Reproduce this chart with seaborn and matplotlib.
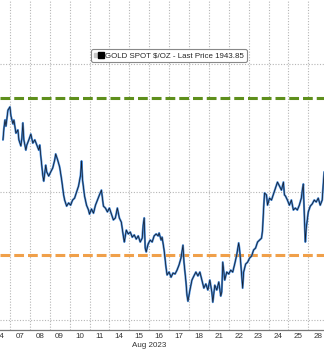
import matplotlib
matplotlib.use("Agg")
import matplotlib.pyplot as plt
from matplotlib.lines import Line2D
import seaborn as sns
import pandas as pd

# ---- data -------------------------------------------------------------
# time in trading days (Aug 07 session = [0, 1]), spot price $/oz
t = [-0.35, -0.30, -0.25, -0.20, -0.10, 0.00, 0.05, 0.15, 0.20, 0.30, 0.40, 0.45,
     0.55, 0.60, 0.65, 0.70, 0.80, 0.85, 0.95, 1.05, 1.15, 1.25, 1.35, 1.45, 1.50,
     1.55, 1.65, 1.70, 1.80, 1.85, 1.95, 2.05, 2.15, 2.25, 2.30, 2.40, 2.50, 2.60,
     2.70, 2.75, 2.85, 2.95, 3.05, 3.15, 3.25, 3.35, 3.45, 3.55, 3.60, 3.65, 3.75,
     3.85, 3.95, 4.00, 4.10, 4.20, 4.30, 4.40, 4.50, 4.60, 4.65, 4.70, 4.80, 4.90,
     5.00, 5.10, 5.20, 5.30, 5.40, 5.50, 5.60, 5.70, 5.75, 5.85, 5.95, 6.05, 6.15,
     6.25, 6.35, 6.45, 6.55, 6.65, 6.70, 6.75, 6.80, 6.85, 6.95, 7.05, 7.15, 7.25,
     7.35, 7.45, 7.50, 7.60, 7.65, 7.75, 7.85, 7.90, 8.00, 8.10, 8.20, 8.30, 8.40,
     8.50, 8.60, 8.70, 8.75, 8.85, 8.90, 8.95, 9.05, 9.15, 9.25, 9.35, 9.45, 9.55,
     9.65, 9.75, 9.85, 9.95, 10.05, 10.15, 10.20, 10.30, 10.40, 10.50, 10.60, 10.65,
     10.70, 10.80, 10.90, 11.00, 11.10, 11.20, 11.30, 11.40, 11.50, 11.55, 11.60,
     11.70, 11.75, 11.85, 11.95, 12.05, 12.15, 12.25, 12.35, 12.45, 12.55, 12.65,
     12.70, 12.75, 12.80, 12.90, 12.95, 13.05, 13.15, 13.25, 13.35, 13.45, 13.55,
     13.65, 13.75, 13.80, 13.85, 13.95, 14.05, 14.15, 14.25, 14.35, 14.45, 14.55,
     14.65, 14.70, 14.75, 14.80, 14.85, 14.90, 15.00, 15.10, 15.20, 15.30, 15.40,
     15.50, 15.60, 15.70, 15.75, 15.80]
price = [1936.3, 1940.0, 1942.5, 1940.6, 1945.6, 1946.6, 1943.8, 1941.3, 1942.5, 1938.4,
         1939.4, 1936.3, 1934.4, 1936.9, 1941.6, 1936.3, 1933.1, 1934.7, 1936.3, 1938.1,
         1935.3, 1936.3, 1934.7, 1933.1, 1934.7, 1931.3, 1925.3, 1923.4, 1928.4, 1926.3,
         1925.0, 1926.3, 1927.5, 1930.0, 1931.9, 1930.0, 1927.8, 1923.8, 1919.1, 1917.5,
         1915.6, 1916.6, 1915.9, 1917.5, 1918.1, 1920.0, 1921.9, 1925.3, 1929.7, 1923.8,
         1918.8, 1915.9, 1914.4, 1913.1, 1914.7, 1913.4, 1915.9, 1917.5, 1919.1, 1920.6,
         1918.1, 1915.6, 1915.0, 1913.8, 1915.0, 1913.1, 1911.3, 1911.9, 1915.0, 1911.9,
         1910.6, 1906.3, 1904.4, 1908.1, 1906.9, 1907.5, 1905.9, 1906.6, 1905.3, 1906.3,
         1904.4, 1905.6, 1909.7, 1911.9, 1902.5, 1901.3, 1903.8, 1905.0, 1904.4, 1906.3,
         1906.9, 1906.3, 1907.2, 1905.0, 1905.9, 1901.9, 1896.3, 1894.1, 1895.0, 1893.4,
         1894.7, 1894.4, 1895.6, 1897.2, 1899.4, 1903.4, 1898.1, 1891.9, 1887.8, 1885.9,
         1889.4, 1892.5, 1893.8, 1895.0, 1893.8, 1895.0, 1892.5, 1890.0, 1891.3, 1889.4,
         1892.5, 1888.8, 1885.6, 1890.9, 1889.4, 1891.9, 1887.5, 1888.8, 1898.1, 1892.5,
         1895.0, 1894.4, 1895.6, 1895.0, 1897.5, 1900.3, 1904.1, 1901.9, 1898.1, 1890.0,
         1895.0, 1897.5, 1898.1, 1899.4, 1900.0, 1901.9, 1902.5, 1904.4, 1905.0, 1905.6,
         1908.1, 1914.4, 1919.7, 1919.1, 1915.9, 1918.1, 1917.5, 1919.4, 1921.3, 1923.1,
         1921.9, 1920.6, 1923.1, 1919.1, 1918.8, 1917.5, 1915.9, 1917.5, 1914.4, 1915.0,
         1914.4, 1915.9, 1918.1, 1920.6, 1922.5, 1912.8, 1904.4, 1908.8, 1913.8, 1915.6,
         1916.3, 1917.5, 1916.9, 1918.1, 1915.9, 1917.5, 1922.2, 1926.3]

day_labels = ["04", "07", "08", "09", "10", "11", "14", "15", "16", "17", "18",
              "21", "22", "23", "24", "25", "28"]
month_label = "Aug 2023"
legend_label = "GOLD SPOT $/OZ - Last Price 1943.85"
resistance = 1949.5
support = 1900.3
y_grid = [1880, 1920, 1960]

# ---- figure -------------------------------------------------------------
sns.set_style("white")
plt.rcParams["font.family"] = ["Liberation Sans", "DejaVu Sans"]

fig = plt.figure(figsize=(3.24, 3.49), dpi=100)
ax = fig.add_axes([0, 19 / 349, 1, 1 - 19 / 349])

df = pd.DataFrame({"t": t, "price": price})

# grid
for g in y_grid:
    ax.axhline(g, color="#b5b5b5", lw=0.8, ls=(0, (1, 1.5)), zorder=0)
for d in range(-1, 17):
    ax.axvline(d, color="#b5b5b5", lw=0.8, ls=(0, (1, 1.5)), zorder=0)

# horizontal levels
ax.axhline(resistance, color="#5e8f1c", lw=2.2, ls=(0, (3.2, 1.3)), zorder=2)
ax.axhline(support, color="#f0a04a", lw=2.2, ls=(0, (3.2, 1.3)), zorder=2)

# price line: light-blue body with a thin dark core
sns.lineplot(data=df, x="t", y="price", ax=ax, color="#4c8fdc", lw=1.5,
             zorder=3, legend=False)
sns.lineplot(data=df, x="t", y="price", ax=ax, color="#141c2b", lw=0.55,
             zorder=4, legend=False)

ax.set_xlim(-0.349, 15.79)
ax.set_ylim(1876.9, 1980)
ax.set_xlabel("")
ax.set_ylabel("")
ax.set_yticks([])

pos = [i - 1 + 0.5 for i in range(len(day_labels))]
ax.set_xticks(pos)
ax.set_xticklabels(day_labels, fontsize=5.8, color="#333333")
ax.tick_params(axis="x", length=0, pad=2.5)

for s in ["top", "left", "right"]:
    ax.spines[s].set_visible(False)
ax.spines["bottom"].set_color("#777777")
ax.spines["bottom"].set_linewidth(0.9)

ax.text(7.0, -0.035, month_label, transform=ax.get_xaxis_transform(),
        ha="center", va="top", fontsize=5.8, color="#333333")

# legend box
handles = [(Line2D([], [], marker="s", color="#c8c8c8", ls="none", markersize=3),
            Line2D([], [], marker="s", color="black", ls="none", markersize=5))]
from matplotlib.legend_handler import HandlerTuple
leg = ax.legend(handles, [legend_label], loc="center",
                bbox_to_anchor=(169 / 324, 1 - 55.5 / 330),
                bbox_transform=ax.transAxes, fontsize=5.7, frameon=True,
                handlelength=1.1, handletextpad=0.3, borderpad=0.35,
                fancybox=True, framealpha=1,
                handler_map={tuple: HandlerTuple(ndivide=None, pad=0.1)})
leg.get_frame().set_edgecolor("#888888")
leg.get_frame().set_linewidth(0.8)

fig.savefig("out.png", dpi=100)
